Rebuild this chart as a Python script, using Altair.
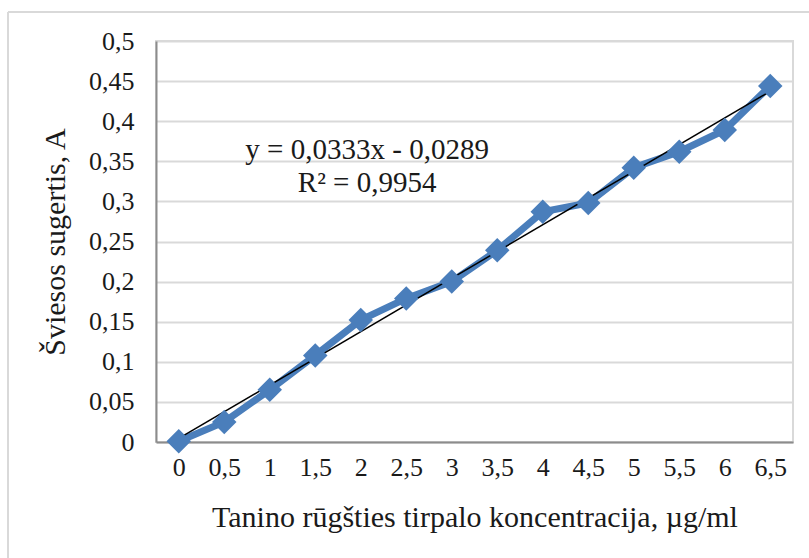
import altair as alt
import pandas as pd

# Tannic acid calibration: concentration (µg/ml) vs absorbance (A)
concentration = [0, 0.5, 1, 1.5, 2, 2.5, 3, 3.5, 4, 4.5, 5, 5.5, 6, 6.5]
absorbance = [0.001, 0.025, 0.065, 0.108, 0.152, 0.179, 0.200, 0.239,
              0.287, 0.298, 0.342, 0.362, 0.389, 0.444]

# Linear trendline (category index 1..n), as reported on the chart
slope = 0.0333
intercept = -0.0289
r_squared = 0.9954

y_ticks = [0, 0.05, 0.1, 0.15, 0.2, 0.25, 0.3, 0.35, 0.4, 0.45, 0.5]

FONT = "Times New Roman, Liberation Serif, serif"
TEXT = "#1a1a1a"
BLUE = "#4a7ebb"
GRID = "#d9d9d9"

W, H = 637, 401
PAD_L, PAD_T = 156, 41

df = pd.DataFrame({"x": concentration, "y": absorbance})

trend_x = [concentration[0], concentration[-1]]
trend_df = pd.DataFrame({
    "x": trend_x,
    "y": [slope * (2 * v + 1) + intercept for v in trend_x],
})

def comma(fmt):
    return f"replace(format(datum.value, '{fmt}'), '.', ',')"

x_scale = alt.Scale(domain=[-0.25, 6.75], nice=False, zero=False)
y_scale = alt.Scale(domain=[0, 0.5], nice=False)

x_enc = alt.X(
    "x:Q", scale=x_scale,
    axis=alt.Axis(
        title="Tanino rūgšties tirpalo koncentracija, µg/ml",
        values=concentration, labelExpr=comma(".1~f"),
        grid=False, ticks=False, domainColor="#8c8c8c", domainWidth=2,
        labelFont=FONT, labelFontSize=26, labelColor=TEXT,
        labelPadding=12, titleFont=FONT, titleFontSize=30,
        titleFontWeight="normal", titleColor=TEXT, titlePadding=22,
    ),
)
y_enc = alt.Y(
    "y:Q", scale=y_scale,
    axis=alt.Axis(
        title="Šviesos sugertis, A",
        values=y_ticks, labelExpr=comma(".2~f"),
        grid=True, gridColor=GRID, gridWidth=2, ticks=False,
        domainColor="#8c8c8c", domainWidth=2,
        labelFont=FONT, labelFontSize=26, labelColor=TEXT,
        labelPadding=22, titleFont=FONT, titleFontSize=30,
        titleFontWeight="normal", titleColor=TEXT, titlePadding=18,
    ),
)

line = alt.Chart(df).mark_line(color=BLUE, strokeWidth=7).encode(x=x_enc, y=y_enc)
points = alt.Chart(df).mark_point(
    shape="diamond", filled=True, size=600, color=BLUE, opacity=1
).encode(x="x:Q", y="y:Q")

trend = alt.Chart(trend_df).mark_line(color="#000", strokeWidth=1.5).encode(
    x="x:Q", y="y:Q"
)

eq_df = pd.DataFrame({
    "x": [2.07],
    "y": [0.353],
    "label": [f"y = {str(slope).replace('.', ',')}x - {str(abs(intercept)).replace('.', ',')}\n"
              f"R² = {str(r_squared).replace('.', ',')}"],
})
equation = alt.Chart(eq_df).mark_text(
    font=FONT, fontSize=29, color=TEXT, align="center",
    baseline="alphabetic", lineBreak="\n", lineHeight=33,
).encode(x="x:Q", y="y:Q", text="label:N")

# Outer chart frame (left and top edges)
frame_left = alt.Chart().mark_rule(color=GRID, strokeWidth=2).encode(
    x=alt.value(8 - PAD_L), y=alt.value(12 - PAD_T), y2=alt.value(600)
)
frame_top = alt.Chart().mark_rule(color=GRID, strokeWidth=2).encode(
    x=alt.value(8 - PAD_L), x2=alt.value(700), y=alt.value(12 - PAD_T)
)

chart = alt.layer(
    frame_left, frame_top, line, trend, points, equation
).properties(
    width=W, height=H,
    autosize=alt.AutoSizeParams(type="none"),
    padding={"left": PAD_L, "top": PAD_T, "right": 809 - PAD_L - W, "bottom": 558 - PAD_T - H},
    background="white",
).configure_view(stroke=GRID, strokeWidth=2)

chart.save("out.html", embed_options={"renderer": "svg", "actions": False})
